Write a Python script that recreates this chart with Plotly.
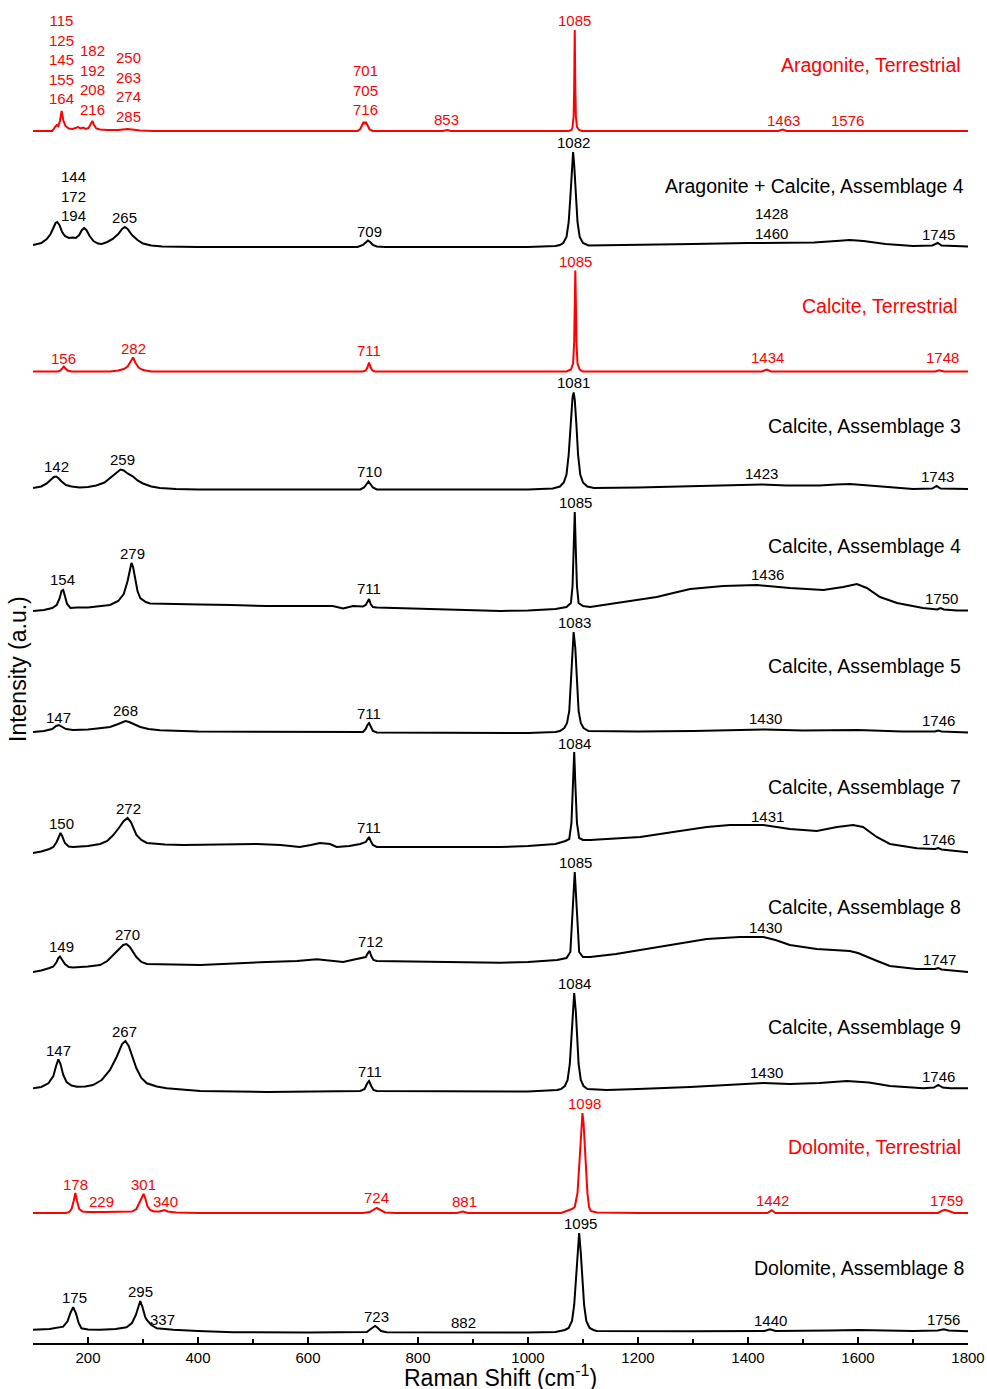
import plotly.graph_objects as go

# ---------------- data (intensity in arbitrary units above each trace's baseline) -------------
arag_terr_x = [100, 135, 140, 143, 146, 149, 152, 155, 159, 165, 172, 178, 182, 186, 191, 196, 201, 205, 208, 211, 215, 222, 235, 255, 265, 272, 280, 295, 320, 690, 695, 698, 701, 703, 705, 708, 712, 718, 845, 853, 860, 1074, 1079, 1081, 1083, 1084, 1085, 1086, 1087, 1089, 1093, 1098, 1455, 1463, 1470, 1800]
arag_terr_y = [0, 0, 4, 6, 5, 10, 20, 11, 5, 2.5, 2, 3, 4, 2.5, 3.5, 2, 3, 7, 10, 6, 2.5, 1.5, 1, 1, 2, 2, 1.5, 0.5, 0, 0, 2, 6, 9, 7, 9, 6, 1.5, 0, 0, 1, 0, 0, 1, 4, 15, 45, 101, 45, 15, 4, 1, 0, 0, 1.5, 0, 0]

arag_calc_a4_x = [100, 115, 125, 132, 137, 141, 144, 148, 153, 158, 165, 172, 178, 184, 189, 193, 197, 203, 210, 218, 225, 235, 245, 255, 262, 267, 272, 280, 290, 300, 315, 335, 400, 690, 700, 705, 709, 713, 718, 725, 740, 1000, 1050, 1058, 1064, 1070, 1074, 1077, 1080, 1082, 1084, 1087, 1090, 1094, 1100, 1110, 1200, 1300, 1400, 1460, 1520, 1560, 1585, 1610, 1650, 1700, 1735, 1745, 1752, 1800]
arag_calc_a4_y = [2, 4, 8, 13, 19, 24, 25, 22, 15, 11, 9, 9.5, 9, 12, 17, 19, 17, 11, 6, 3.5, 3, 5, 8, 13, 18, 20, 18, 12, 7, 3.5, 1.5, 0.5, 0, 0, 2, 5, 6.5, 5, 2, 0.5, 0, 0, 1, 2, 4, 10, 25, 50, 82, 95, 82, 50, 25, 10, 4, 1.5, 2, 3, 4, 4, 4.5, 6, 7, 6, 3, 1, 1.5, 4, 1.5, 0.5]

calc_terr_x = [100, 145, 150, 153, 156, 159, 163, 170, 240, 255, 265, 272, 277, 282, 286, 292, 300, 315, 700, 705, 708, 711, 714, 717, 722, 1070, 1078, 1082, 1084, 1085, 1086, 1087, 1088, 1090, 1094, 1100, 1425, 1434, 1442, 1740, 1748, 1756, 1800]
calc_terr_y = [0, 0, 1, 3, 5, 3, 1, 0, 0, 1, 2.5, 5, 9, 14, 9, 4, 1.5, 0, 0, 1, 4, 9, 4, 1, 0, 0, 2, 8, 30, 70, 101, 70, 30, 8, 2, 0, 0, 2, 0, 0, 1.2, 0, 0]

calc_a3_x = [100, 115, 125, 133, 138, 142, 146, 152, 160, 170, 185, 200, 215, 230, 242, 252, 259, 265, 272, 282, 290, 300, 315, 331, 360, 400, 695, 702, 706, 710, 714, 718, 725, 1000, 1045, 1058, 1065, 1070, 1074, 1078, 1081, 1083, 1085, 1088, 1091, 1095, 1100, 1108, 1120, 1200, 1300, 1400, 1425, 1470, 1530, 1560, 1585, 1620, 1660, 1700, 1735, 1743, 1750, 1800]
calc_a3_y = [1.5, 3, 6, 10, 12.5, 13, 11.5, 8, 4.5, 3, 2, 2.5, 4, 7, 12, 17, 20, 19, 16, 13, 9, 6, 3, 1.5, 0.5, 0, 0, 2, 5, 8, 5, 2, 0, 0, 1, 3, 7, 15, 35, 70, 92, 97, 90, 65, 35, 15, 7, 3, 1.5, 2, 3, 4.5, 5, 4, 4, 5, 5.5, 4, 2, 0.5, 1, 3.5, 1, 0.5]

calc_a4_x = [100, 120, 135, 143, 148, 152, 155, 158, 162, 168, 180, 200, 222, 240, 255, 265, 272, 277, 279, 282, 286, 290, 295, 305, 313, 343, 404, 460, 525, 600, 645, 664, 682, 700, 705, 708, 711, 714, 718, 725, 780, 828, 900, 950, 1000, 1050, 1070, 1078, 1081, 1083, 1085, 1087, 1089, 1092, 1100, 1113, 1173, 1234, 1264, 1295, 1355, 1416, 1476, 1537, 1573, 1598, 1616, 1640, 1671, 1718, 1744, 1750, 1756, 1780, 1800]
calc_a4_y = [0, 1, 3, 6, 12, 20, 21, 15, 7, 3, 3.5, 3.5, 4.5, 6, 10, 17, 30, 44, 48, 44, 30, 20, 13, 9, 7.5, 7, 6.5, 6, 5, 5, 5, 2.5, 5, 4.5, 6, 9, 12, 7, 4, 3.5, 2.5, 1.5, 0.5, 0, 0.5, 2, 4, 8, 25, 60, 99, 60, 25, 8, 5, 4, 9, 14, 18, 22, 25, 26, 23, 21, 24, 27, 23, 14, 8, 3, 1.5, 3, 1.5, 0.5, 0.5]

calc_a5_x = [100, 120, 135, 142, 147, 152, 160, 173, 200, 225, 240, 255, 262, 268, 275, 285, 295, 310, 331, 400, 600, 700, 705, 708, 711, 714, 718, 725, 1000, 1050, 1058, 1066, 1071, 1075, 1078, 1081, 1083, 1086, 1089, 1092, 1096, 1101, 1110, 1200, 1300, 1430, 1500, 1600, 1680, 1740, 1746, 1752, 1800]
calc_a5_y = [1, 2, 4, 7, 8, 6.5, 4, 3, 3.5, 5, 6, 9, 11, 12, 11, 8.5, 6, 4, 2.7, 1.5, 1, 1, 4, 8, 10, 6, 2, 0.5, 0, 1, 2, 5, 10, 22, 50, 85, 101, 85, 50, 22, 10, 5, 2, 1.5, 2, 3.5, 2.5, 3, 1.5, 1.5, 2.5, 1.5, 0.5]

calc_a7_x = [100, 115, 130, 137, 143, 147, 150, 153, 158, 165, 173, 200, 222, 235, 246, 256, 265, 272, 278, 288, 297, 307, 340, 373, 440, 507, 550, 585, 605, 622, 640, 652, 675, 695, 705, 708, 711, 714, 718, 725, 828, 949, 1000, 1050, 1068, 1075, 1079, 1082, 1084, 1086, 1089, 1093, 1100, 1113, 1150, 1204, 1264, 1325, 1367, 1428, 1476, 1525, 1562, 1591, 1609, 1634, 1658, 1707, 1740, 1746, 1752, 1800]
calc_a7_y = [0, 1.5, 4, 6, 11, 17, 20, 17, 10, 6.5, 6, 7, 9, 12, 18, 25, 32, 35, 31, 18, 13, 10, 8.5, 8, 8.5, 9, 8, 6, 8, 10, 9, 6, 7, 9, 11, 14, 16, 12, 8, 6, 6, 6, 7, 9, 12, 14, 30, 70, 101, 70, 30, 15, 13, 13, 14, 16, 21, 26, 28, 28, 24, 22, 26, 28, 26, 16, 9, 4.7, 4, 5, 3.5, 0.7]

calc_a8_x = [100, 115, 130, 137, 143, 146, 149, 152, 158, 165, 173, 200, 222, 235, 246, 256, 264, 270, 276, 288, 297, 307, 404, 525, 580, 616, 640, 664, 680, 695, 705, 709, 712, 715, 719, 725, 828, 949, 1000, 1053, 1070, 1077, 1081, 1085, 1089, 1093, 1100, 1113, 1160, 1204, 1264, 1325, 1385, 1428, 1450, 1476, 1525, 1585, 1600, 1616, 1635, 1658, 1707, 1740, 1746, 1752, 1800]
calc_a8_y = [0, 1.5, 4, 5.5, 10, 14, 15.5, 13, 8, 5, 4.5, 5.5, 7, 11, 17, 22, 27, 28, 25, 15, 10, 8, 7, 10, 11, 12.7, 11, 10, 12, 13.7, 15, 19, 21, 16, 12, 11, 10, 9.3, 10, 12, 14, 20, 60, 100, 60, 20, 15, 15, 18, 22, 28, 33, 35, 35, 32, 27, 23, 21, 19, 15, 11, 6, 3, 3, 4, 2.5, 0]

calc_a9_x = [100, 115, 128, 137, 142, 146, 150, 155, 161, 170, 180, 195, 209, 225, 240, 252, 262, 268, 274, 281, 288, 297, 307, 325, 343, 404, 525, 695, 703, 707, 711, 715, 719, 725, 949, 1000, 1053, 1060, 1067, 1072, 1076, 1079, 1081, 1084, 1087, 1089, 1092, 1096, 1101, 1108, 1143, 1200, 1295, 1428, 1476, 1530, 1580, 1620, 1658, 1719, 1738, 1746, 1754, 1768, 1800]
calc_a9_y = [3.7, 5, 8.7, 16, 26, 32.7, 28, 17, 10, 6.5, 5.3, 5.5, 7, 12, 22, 35, 48, 51, 46, 34, 23.7, 14, 8.7, 5.5, 3.7, 1, 0, 1, 3, 8, 11, 6, 2, 1, 0, 0.5, 2, 3, 6, 12, 28, 55, 80, 99, 80, 55, 28, 12, 6, 3, 2, 3, 5, 9, 8, 9, 11, 9.5, 6, 3.7, 4.5, 7, 4.5, 3.7, 3.7]

dol_terr_x = [100, 160, 166, 170, 174, 177, 180, 184, 190, 200, 229, 260, 280, 288, 293, 297, 301, 304, 308, 313, 320, 330, 339, 345, 360, 400, 700, 712, 720, 725, 730, 740, 760, 870, 882, 890, 1060, 1073, 1080, 1085, 1090, 1094, 1097, 1099, 1101, 1104, 1108, 1111, 1114, 1125, 1200, 1435, 1443, 1450, 1745, 1752, 1758, 1765, 1775, 1800]
dol_terr_y = [0, 0, 1, 4, 12, 20, 12, 4, 1.5, 1, 1, 1, 1.5, 4, 10, 16, 19, 15, 7, 3, 1.5, 1.5, 3, 1.5, 0.5, 0, 0, 1, 4, 5, 3.5, 0.5, 0, 0, 1.5, 0, 0, 2.7, 4, 6, 20, 55, 90, 100, 90, 55, 20, 6, 2, 0.5, 0, 0, 2.7, 0, 0, 2, 3.3, 2, 0, 0]

dol_a8_x = [100, 130, 155, 163, 168, 173, 178, 183, 188, 200, 222, 250, 270, 280, 287, 292, 295, 299, 304, 307, 315, 325, 337, 355, 400, 464, 600, 707, 714, 719, 722, 727, 733, 743, 800, 882, 1000, 1050, 1067, 1074, 1080, 1084, 1087, 1090, 1093, 1096, 1099, 1102, 1106, 1112, 1119, 1125, 1300, 1350, 1430, 1440, 1450, 1550, 1600, 1650, 1700, 1745, 1756, 1765, 1800]
dol_a8_y = [3.3, 4, 6.3, 12, 20, 25.7, 20, 10, 4.7, 3.5, 3.3, 4, 5.7, 10, 18, 28, 32, 26, 16, 13, 8, 4.7, 4, 3.3, 2, 0.7, 0.5, 1, 4, 6.5, 7, 5, 2, 0.7, 0.5, 0.5, 0.5, 1, 3, 5, 12, 28, 50, 80, 100, 80, 50, 28, 12, 5, 3, 2, 1.7, 2, 2, 3.7, 2, 2.5, 3, 2.5, 2, 2.5, 3.7, 2.5, 1.7]

# vertical offsets of each spectrum (stacking)
offsets = [1212, 1096, 971.5, 853.5, 732, 610, 490, 371, 251, 130, 10]
series_names = ["Aragonite, Terrestrial", "Aragonite + Calcite, Assemblage 4", "Calcite, Terrestrial",
                "Calcite, Assemblage 3", "Calcite, Assemblage 4", "Calcite, Assemblage 5",
                "Calcite, Assemblage 7", "Calcite, Assemblage 8", "Calcite, Assemblage 9",
                "Dolomite, Terrestrial", "Dolomite, Assemblage 8"]
series_is_ref = [True, False, True, False, False, False, False, False, False, True, False]
name_x = [1791, 1796, 1786, 1791, 1791, 1791, 1791, 1791, 1791, 1791, 1796]
name_y = [1278, 1157, 1037, 917, 797, 677, 556, 436, 316, 196, 75]

# peak labels: text, x (cm-1), y (plot units)
arag_terr_lbl = ["115<br>125<br>145<br>155<br>164", "182<br>192<br>208<br>216", "250<br>263<br>274<br>285",
                 "701<br>705<br>716", "853", "1085", "1463", "1576"]
arag_terr_lbl_x = [151, 209, 273, 704, 851, 1085, 1465, 1580]
arag_terr_lbl_y = [1284, 1263, 1256.5, 1253.5, 1224, 1323, 1223, 1223]

arag_calc_a4_lbl = ["144<br>172<br>194", "265", "709", "1082", "1428<br>1460", "1745"]
arag_calc_a4_lbl_x = [173, 267, 711, 1082, 1443, 1747]
arag_calc_a4_lbl_y = [1147, 1126, 1112, 1201, 1120, 1109]

calc_terr_lbl = ["156", "282", "711", "1085", "1434", "1748"]
calc_terr_lbl_x = [156, 282, 711, 1087, 1436, 1753]
calc_terr_lbl_y = [985, 995, 993, 1082, 986, 986]

calc_a3_lbl = ["142", "259", "710", "1081", "1423", "1743"]
calc_a3_lbl_x = [142, 262, 711, 1082, 1425, 1745]
calc_a3_lbl_y = [877, 884, 872, 961, 870, 867]

calc_a4_lbl = ["154", "279", "711", "1085", "1436", "1750"]
calc_a4_lbl_x = [154, 280, 711, 1087, 1436, 1751]
calc_a4_lbl_y = [764, 790, 755, 841, 769, 745]

calc_a5_lbl = ["147", "268", "711", "1083", "1430", "1746"]
calc_a5_lbl_x = [147, 269, 711, 1084, 1431, 1747]
calc_a5_lbl_y = [626, 633, 630, 721, 625, 623]

calc_a7_lbl = ["150", "272", "711", "1084", "1431", "1746"]
calc_a7_lbl_x = [151, 273, 711, 1085, 1436, 1747]
calc_a7_lbl_y = [520, 535, 516, 600, 527, 504]

calc_a8_lbl = ["149", "270", "712", "1085", "1430", "1747"]
calc_a8_lbl_x = [151, 271, 713, 1087, 1431, 1749]
calc_a8_lbl_y = [397, 409, 402, 481, 416, 384]

calc_a9_lbl = ["147", "267", "711", "1084", "1430", "1746"]
calc_a9_lbl_x = [147, 267, 713, 1084, 1433, 1747]
calc_a9_lbl_y = [293, 312, 272, 360, 271, 267]

dol_terr_lbl = ["178", "229", "301", "340", "724", "881", "1098", "1442", "1759"]
dol_terr_lbl_x = [178, 224, 300, 340, 725, 884, 1102, 1444, 1760]
dol_terr_lbl_y = [159, 142, 159, 142, 146, 142, 240, 143, 143]

dol_a8_lbl = ["175", "295", "337", "723", "882", "1095", "1440", "1756"]
dol_a8_lbl_x = [176, 295, 335, 724, 882, 1096, 1440, 1756]
dol_a8_lbl_y = [46, 52, 24, 27, 21, 120, 23, 24]

x_ticks = [200, 400, 600, 800, 1000, 1200, 1400, 1600, 1800]

# ---------------- figure ----------------
spectra = [
    (arag_terr_x, arag_terr_y, arag_terr_lbl, arag_terr_lbl_x, arag_terr_lbl_y),
    (arag_calc_a4_x, arag_calc_a4_y, arag_calc_a4_lbl, arag_calc_a4_lbl_x, arag_calc_a4_lbl_y),
    (calc_terr_x, calc_terr_y, calc_terr_lbl, calc_terr_lbl_x, calc_terr_lbl_y),
    (calc_a3_x, calc_a3_y, calc_a3_lbl, calc_a3_lbl_x, calc_a3_lbl_y),
    (calc_a4_x, calc_a4_y, calc_a4_lbl, calc_a4_lbl_x, calc_a4_lbl_y),
    (calc_a5_x, calc_a5_y, calc_a5_lbl, calc_a5_lbl_x, calc_a5_lbl_y),
    (calc_a7_x, calc_a7_y, calc_a7_lbl, calc_a7_lbl_x, calc_a7_lbl_y),
    (calc_a8_x, calc_a8_y, calc_a8_lbl, calc_a8_lbl_x, calc_a8_lbl_y),
    (calc_a9_x, calc_a9_y, calc_a9_lbl, calc_a9_lbl_x, calc_a9_lbl_y),
    (dol_terr_x, dol_terr_y, dol_terr_lbl, dol_terr_lbl_x, dol_terr_lbl_y),
    (dol_a8_x, dol_a8_y, dol_a8_lbl, dol_a8_lbl_x, dol_a8_lbl_y),
]

FONT = "Liberation Sans, Arial, sans-serif"
RED = "#FF0000"
BLACK = "#000000"

fig = go.Figure()
annotations = []
for i, (xs, ys, lbls, lx, ly) in enumerate(spectra):
    color = RED if series_is_ref[i] else BLACK
    fig.add_trace(go.Scatter(
        x=xs, y=[offsets[i] + v for v in ys], mode="lines",
        line=dict(color=color, width=2), name=series_names[i],
        showlegend=False, hoverinfo="skip"))
    for t, xx, yy in zip(lbls, lx, ly):
        annotations.append(dict(x=xx, y=yy, xref="x", yref="y", text=t, showarrow=False,
                                xanchor="center", yanchor="middle",
                                font=dict(family=FONT, size=15, color=color)))
    annotations.append(dict(x=name_x[i], y=name_y[i], xref="x", yref="y", text=series_names[i],
                            showarrow=False, xanchor="right", yanchor="middle",
                            font=dict(family=FONT, size=19.5, color=color)))

# axis titles
annotations.append(dict(x=0.5, y=0, xref="paper", yref="paper", yshift=-33,
                        text="Raman Shift (cm<sup>-1</sup>)", showarrow=False,
                        xanchor="center", yanchor="middle",
                        font=dict(family=FONT, size=23, color=BLACK)))
annotations.append(dict(x=0, y=674, xref="paper", yref="y", xshift=-15,
                        text="Intensity (a.u.)", showarrow=False, textangle=-90,
                        xanchor="center", yanchor="middle",
                        font=dict(family=FONT, size=23, color=BLACK)))

fig.update_layout(
    width=987, height=1389,
    margin=dict(l=33, r=19, t=10, b=46, autoexpand=False),
    paper_bgcolor="white", plot_bgcolor="white",
    annotations=annotations,
    xaxis=dict(range=[100, 1800], tickvals=x_ticks, ticks="inside", ticklen=6, tickwidth=1.5,
               tickcolor=BLACK, showline=True, linecolor=BLACK, linewidth=1.5,
               showgrid=False, zeroline=False, automargin=False,
               tickfont=dict(family=FONT, size=15, color=BLACK),
               minor=dict(ticks="inside", ticklen=4, tickwidth=1.5, tickcolor=BLACK,
                          dtick=100, tick0=0, showgrid=False)),
    yaxis=dict(range=[0, 1333], visible=False, showgrid=False, zeroline=False, automargin=False),
)

fig.write_html("out.html",
               config={"displayModeBar": False, "responsive": False},
               post_script="document.body.style.margin='0';document.body.style.overflow='hidden';")
